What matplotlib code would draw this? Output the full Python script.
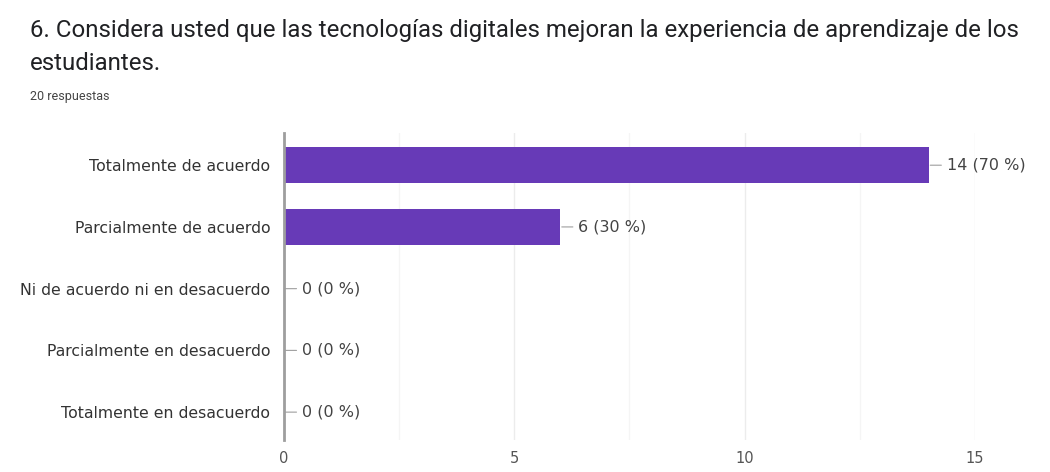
import matplotlib
matplotlib.use("Agg")
import matplotlib.pyplot as plt

categories = [
    "Totalmente de acuerdo",
    "Parcialmente de acuerdo",
    "Ni de acuerdo ni en desacuerdo",
    "Parcialmente en desacuerdo",
    "Totalmente en desacuerdo",
]
counts = [14, 6, 0, 0, 0]
percents = [70, 30, 0, 0, 0]
x_ticks = [0, 5, 10, 15]

title_lines = [
    "6. Considera usted que las tecnologías digitales mejoran la experiencia de aprendizaje de los",
    "estudiantes.",
]
subtitle = "20 respuestas"

plt.rcParams["font.family"] = ["Roboto", "DejaVu Sans"]
label_font = ["DejaVu Sans"]

fig = plt.figure(figsize=(10.5, 4.72), dpi=100)
ax = fig.add_axes([0.2705, 0.068, 0.658, 0.650])

ypos = list(range(len(categories)))
ax.barh(ypos, counts, height=0.58, color="#673AB7", zorder=3)

ax.set_xlim(0, 15)
ax.set_ylim(4.45, -0.52)
ax.set_xticks(x_ticks)
ax.set_xticks([2.5, 7.5, 12.5], minor=True)
ax.grid(axis="x", which="major", color="#ececec", linewidth=1, zorder=0)
ax.grid(axis="x", which="minor", color="#f5f5f5", linewidth=1, zorder=0)
ax.set_yticks(ypos)
ax.set_yticklabels(categories, family=label_font)
ax.set_xticklabels([str(t) for t in x_ticks], family=label_font)

for s in ["top", "right", "bottom"]:
    ax.spines[s].set_visible(False)
ax.spines["left"].set_color("#9e9e9e")
ax.spines["left"].set_linewidth(2)
ax.spines["left"].set_zorder(4)
ax.tick_params(axis="y", length=0, pad=10, labelsize=11.3, labelcolor="#333333")
ax.tick_params(axis="x", which="both", length=0, pad=8, labelsize=10.5, labelcolor="#555555")

for y, c, p in zip(ypos, counts, percents):
    ax.annotate(
        f"{c} ({p} %)",
        xy=(c, y), xycoords="data",
        xytext=(13, 0), textcoords="offset points",
        va="center", ha="left", fontsize=11.5, color="#444444",
        family=label_font,
        arrowprops=dict(arrowstyle="-", color="#9e9e9e", lw=0.8,
                        shrinkA=2, shrinkB=1),
    )

fig.text(30 / 1050, 1 - 37 / 472, title_lines[0], fontsize=17.3, color="#202124",
         ha="left", va="baseline")
fig.text(30 / 1050, 1 - 70 / 472, title_lines[1], fontsize=17.3, color="#202124",
         ha="left", va="baseline")
fig.text(30 / 1050, 1 - 100 / 472, subtitle, fontsize=9, color="#444444",
         ha="left", va="baseline")

fig.savefig("out.png", dpi=100, facecolor="white")
